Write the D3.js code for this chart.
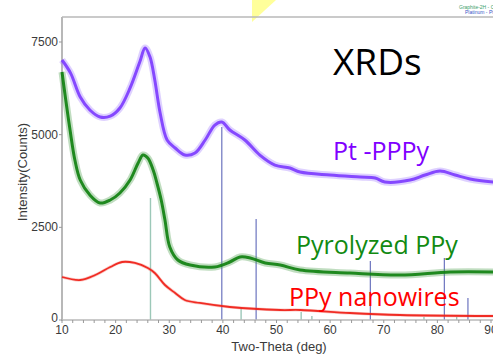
<!DOCTYPE html>
<html>
<head>
<meta charset="utf-8">
<script src="https://cdn.jsdelivr.net/npm/d3@7"></script>
<style>
  html, body { margin: 0; padding: 0; background: #fff; }
  svg { display: block; }
</style>
</head>
<body>
<svg id="chart" width="493" height="356"></svg>
<script>
// Diffraction scans: [2θ (deg), intensity (counts)]
const ptPPPy = [
  [10, 7014], [11.6, 6660], [13.4, 6016], [15.2, 5665], [17.1, 5477], [19, 5500],
  [20.8, 5720], [22.7, 6260], [24.5, 6960], [25.5, 7340], [26.4, 7100], [27.3, 6475],
  [28.3, 5585], [29.6, 4856], [31.1, 4640], [32.9, 4451], [34.8, 4505], [36.7, 4856],
  [38.5, 5260], [39.8, 5342], [41.3, 5126], [44.1, 4856], [46.9, 4450], [49.7, 4181],
  [52.5, 4100], [54.4, 3993], [60, 3912], [65.6, 3858], [68.4, 3831], [70.2, 3723],
  [74.9, 3777], [77.7, 3912], [80.5, 4020], [83.3, 3912], [86.1, 3804], [90.4, 3723]
];
const pyrolyzedPPy = [
  [10, 6690], [10.7, 5935], [11.5, 5126], [12.4, 4316], [13.4, 3777], [15.2, 3372],
  [17.1, 3156], [19, 3237], [20.8, 3426], [22.7, 3777], [24.2, 4236], [25.1, 4451],
  [26, 4370], [27, 4047], [27.7, 3696], [28.5, 3237], [29.2, 2698], [30.1, 1969],
  [31.6, 1619], [33.9, 1484], [38.5, 1430], [41.3, 1565], [43.2, 1700], [45.1, 1673],
  [47.9, 1538], [50.7, 1484], [54.4, 1349], [63.7, 1268], [73, 1214], [82.4, 1295],
  [90.4, 1295]
];
const ppyNanowires = [
  [10, 1160], [13.4, 1079], [16.2, 1214], [19, 1430], [21.2, 1565], [23.6, 1538],
  [26, 1403], [27.3, 1268], [29.2, 944], [31.1, 728], [32.9, 540], [35.7, 459],
  [41.3, 351], [50.7, 270], [54.4, 270], [63.7, 189], [73, 135], [90.4, 108]
];

// Reference stick patterns: [2θ, relative height in counts]
const platinumSticks = [[39.8, 5207], [46.2, 2725], [67.5, 1592], [81.3, 1673], [85.7, 594]];
const graphiteSticks = [[26.5, 3291], [43.4, 297], [54.6, 216], [56.6, 108], [77.5, 81], [83.6, 81]];

const xTicks = [10, 20, 30, 40, 50, 60, 70, 80, 90];
const xMinorTicks = d3.range(10, 91, 2);
const yTicks = [0, 2500, 5000, 7500];

const series = [
  { name: "Pt -PPPy", data: ptPPPy, color: "#7b38ff", band: "#a07aff", w: 3, bw: 7 },
  { name: "Pyrolyzed PPy", data: pyrolyzedPPy, color: "#0d7f0d", band: "#4a9f4a", w: 3, bw: 7 },
  { name: "PPy nanowires", data: ppyNanowires, color: "#ee1b12", band: "#f46a60", w: 1.8, bw: 3.2 }
];

const svg = d3.select("#chart");
const x = d3.scaleLinear().domain([10, 90]).range([62, 491]);
const y = d3.scaleLinear().domain([0, 7500]).range([320, 42]);

// Yellow corner wedge at the top
svg.append("polygon")
  .attr("points", "252,0 276,0 252,22")
  .attr("fill", "#ffff9a");

// Frame: top and left edges
svg.append("line").attr("x1", 62).attr("x2", 493).attr("y1", 17).attr("y2", 17)
  .attr("stroke", "#b8b8b8").attr("stroke-width", 1.6);
svg.append("line").attr("x1", 62).attr("x2", 62).attr("y1", 17).attr("y2", 321)
  .attr("stroke", "#b8b8b8").attr("stroke-width", 2);

// Stick patterns
const sticks = svg.append("g");
sticks.selectAll("line.gr").data(graphiteSticks).join("line")
  .attr("x1", d => x(d[0])).attr("x2", d => x(d[0]))
  .attr("y1", y(0)).attr("y2", d => y(d[1]))
  .attr("stroke", "#9cc8b8").attr("stroke-width", 1.4);
sticks.selectAll("line.pt").data(platinumSticks).join("line")
  .attr("x1", d => x(d[0])).attr("x2", d => x(d[0]))
  .attr("y1", y(0)).attr("y2", d => y(d[1]))
  .attr("stroke", "#6c74bf").attr("stroke-width", 1.2);

// Scan curves: a soft band for the counting noise plus a core line
const line = d3.line().x(d => x(d[0])).y(d => y(d[1])).curve(d3.curveCatmullRom.alpha(0.5));
const curves = svg.append("g");
series.forEach(s => {
  curves.append("path").datum(s.data).attr("d", line)
    .attr("fill", "none").attr("stroke", s.band).attr("stroke-width", s.bw)
    .attr("stroke-opacity", 0.35).attr("stroke-linejoin", "round");
  curves.append("path").datum(s.data).attr("d", line)
    .attr("fill", "none").attr("stroke", s.color).attr("stroke-width", s.w)
    .attr("stroke-opacity", 0.9).attr("stroke-linejoin", "round");
});

// Bottom axis
const xAxis = svg.append("g").attr("transform", "translate(0,320)");
xAxis.append("line").attr("x1", 62).attr("x2", 493).attr("y1", 0).attr("y2", 0)
  .attr("stroke", "#b8b8b8").attr("stroke-width", 1.4);
xAxis.selectAll("line.minor").data(xMinorTicks).join("line")
  .attr("x1", d => x(d)).attr("x2", d => x(d)).attr("y1", 0).attr("y2", 3)
  .attr("stroke", "#999").attr("stroke-width", 1);
xAxis.selectAll("text").data(xTicks).join("text")
  .attr("x", d => x(d)).attr("y", 14)
  .attr("text-anchor", "middle")
  .attr("font-family", "Liberation Sans, Arial, sans-serif")
  .attr("font-size", 12).attr("fill", "#3a3a3a")
  .text(d => d);

// Left axis
const yAxis = svg.append("g");
yAxis.selectAll("line").data(yTicks).join("line")
  .attr("x1", 59).attr("x2", 62).attr("y1", d => y(d)).attr("y2", d => y(d))
  .attr("stroke", "#999");
yAxis.selectAll("text").data(yTicks).join("text")
  .attr("x", 58).attr("y", d => y(d) + (d === 0 ? 2 : 4))
  .attr("text-anchor", "end")
  .attr("font-family", "Liberation Sans, Arial, sans-serif")
  .attr("font-size", 12).attr("fill", "#3a3a3a")
  .text(d => d);

// Axis titles
svg.append("text")
  .attr("transform", "translate(27,172) rotate(-90)")
  .attr("text-anchor", "middle")
  .attr("font-family", "Liberation Sans, Arial, sans-serif")
  .attr("font-size", 13).attr("fill", "#3a3a3a")
  .text("Intensity(Counts)");
svg.append("text")
  .attr("x", 279).attr("y", 351)
  .attr("text-anchor", "middle")
  .attr("font-family", "Liberation Sans, Arial, sans-serif")
  .attr("font-size", 13).attr("fill", "#3a3a3a")
  .text("Two-Theta (deg)");

// Phase legend in the top right corner
svg.append("text").attr("x", 459).attr("y", 9)
  .attr("font-family", "Liberation Sans, Arial, sans-serif").attr("font-size", 5)
  .attr("fill", "#3aa06a").text("Graphite-2H - C");
svg.append("text").attr("x", 465).attr("y", 14)
  .attr("font-family", "Liberation Sans, Arial, sans-serif").attr("font-size", 5)
  .attr("fill", "#3a55c8").text("Platinum - Pt");

// Title and series labels
const labelFont = "Open Sans, Noto Sans, sans-serif";
svg.append("text").attr("x", 333).attr("y", 75)
  .attr("font-family", labelFont).attr("font-size", 37).attr("fill", "#000")
  .text("XRDs");
const labels = [
  { text: "Pt -PPPy", x: 333, y: 160, color: "#7f00ff" },
  { text: "Pyrolyzed PPy", x: 296, y: 254, color: "#118a11" },
  { text: "PPy nanowires", x: 289, y: 306, color: "#ff0000" }
];
svg.selectAll("text.series").data(labels).join("text")
  .attr("class", "series")
  .attr("x", d => d.x).attr("y", d => d.y)
  .attr("font-family", labelFont).attr("font-size", 25)
  .attr("fill", d => d.color)
  .text(d => d.text);
</script>
</body>
</html>
